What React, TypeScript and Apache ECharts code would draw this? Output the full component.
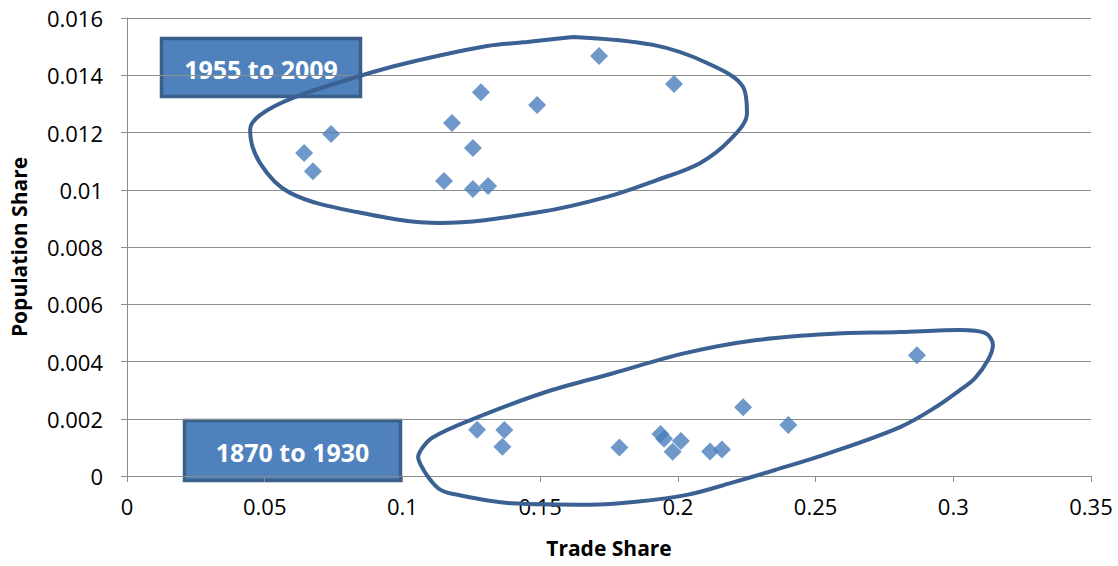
import React, { useEffect, useRef } from "react";
import * as echarts from "echarts";

// Trade share vs population share, two historical periods
const tradeShare1870 = [0.1271, 0.137, 0.1363, 0.1788, 0.1937, 0.195, 0.2011, 0.1981, 0.2117, 0.216, 0.2237, 0.2401, 0.2868];
const popShare1870 = [0.00162, 0.00161, 0.00102, 0.001, 0.00147, 0.0013, 0.00122, 0.00085, 0.00086, 0.00093, 0.0024, 0.00178, 0.00422];

const tradeShare1955 = [0.0643, 0.0675, 0.0741, 0.1151, 0.118, 0.1256, 0.1256, 0.1285, 0.1311, 0.1489, 0.1714, 0.1986];
const popShare1955 = [0.01128, 0.01065, 0.01195, 0.01031, 0.01233, 0.01146, 0.01003, 0.01341, 0.01013, 0.01296, 0.01467, 0.01369];

// Hand-drawn outlines around each period's cluster (data coordinates)
const outline1955X = [0.1619, 0.191, 0.2106, 0.2237, 0.2251, 0.2189, 0.208, 0.1924, 0.1743, 0.1499, 0.1136, 0.0835, 0.0592, 0.0483, 0.0447, 0.0483, 0.0603, 0.0857, 0.1017, 0.1307, 0.1452, 0.1619];
const outline1955Y = [0.01534, 0.01506, 0.01443, 0.01359, 0.01268, 0.01174, 0.01093, 0.01034, 0.00975, 0.00922, 0.00884, 0.00922, 0.00989, 0.01093, 0.01209, 0.01261, 0.01321, 0.01401, 0.01443, 0.01502, 0.01516, 0.01534];

const outline1870X = [0.1067, 0.1107, 0.1249, 0.151, 0.1768, 0.203, 0.2287, 0.2549, 0.2807, 0.3024, 0.3115, 0.3144, 0.3126, 0.3079, 0.3024, 0.2937, 0.2807, 0.2549, 0.2353, 0.2197, 0.2033, 0.1848, 0.1681, 0.1394, 0.118, 0.1133, 0.1096, 0.1067, 0.1057, 0.1067];
const outline1870Y = [0.00091, 0.00133, 0.00196, 0.0029, 0.0036, 0.0043, 0.00475, 0.00496, 0.00503, 0.0051, 0.005, 0.00458, 0.00405, 0.00342, 0.003, 0.00241, 0.00171, 0.0008, 0.00021, -0.00023, -0.00066, -0.0009, -0.001, -0.00095, -0.00062, -0.00045, -0.00007, 0.00038, 0.00066, 0.00091];

const periodLabels = ["1955 to 2009", "1870 to 1930"];

const zip = (xs: number[], ys: number[]) => xs.map((x, i) => [x, ys[i]]);

const FONT = '"Open Sans", "Liberation Sans", sans-serif';
const MARK = "#4A7EBB";
const OUTLINE = "#3B6092";
const GRID_GREY = "#8C8C8C";

export default function App() {
  const ref = useRef<HTMLDivElement>(null);

  useEffect(() => {
    if (!ref.current) return;
    const chart = echarts.init(ref.current, null, { renderer: "svg" });

    const outlineSeries = (xs: number[], ys: number[]) => ({
      type: "line",
      data: zip(xs, ys),
      smooth: 0.35,
      showSymbol: false,
      symbol: "none",
      clip: false,
      silent: true,
      lineStyle: { color: OUTLINE, width: 4 },
      z: 3,
    });

    const callout = (x: number, y: number, w: number, h: number, text: string) => ({
      type: "group",
      z: 100,
      children: [
        {
          type: "rect",
          shape: { x, y, width: w, height: h },
          style: { fill: "#4F81BD", stroke: "#3A5F8B", lineWidth: 3.5 },
        },
        {
          type: "text",
          x: x + w / 2,
          y: y + h / 2 + 1,
          style: {
            text,
            fill: "#FFFFFF",
            font: `bold 25px ${FONT}`,
            textAlign: "center",
            textVerticalAlign: "middle",
          },
        },
      ],
    });

    chart.setOption({
      animation: false,
      backgroundColor: "#FFFFFF",
      textStyle: { fontFamily: FONT },
      grid: { left: 127, right: 27, top: 18, bottom: 90, containLabel: false },
      xAxis: {
        type: "value",
        min: 0,
        max: 0.35,
        interval: 0.05,
        name: "Trade Share",
        nameLocation: "middle",
        nameGap: 61,
        nameTextStyle: { fontFamily: FONT, fontWeight: "bold", fontSize: 21, color: "#000" },
        axisLine: { show: true, onZero: false, lineStyle: { color: GRID_GREY, width: 1 } },
        axisTick: { show: true, length: 6, lineStyle: { color: GRID_GREY } },
        axisLabel: { fontFamily: FONT, fontSize: 22, color: "#000", margin: 19 },
        splitLine: { show: false },
      },
      yAxis: {
        type: "value",
        min: 0,
        max: 0.016,
        interval: 0.002,
        name: "Population Share",
        nameLocation: "middle",
        nameGap: 98,
        nameTextStyle: { fontFamily: FONT, fontWeight: "bold", fontSize: 21, color: "#000" },
        axisLine: { show: true, lineStyle: { color: GRID_GREY, width: 1 } },
        axisTick: { show: true, length: 6, lineStyle: { color: GRID_GREY } },
        axisLabel: { fontFamily: FONT, fontSize: 22, color: "#000", margin: 24 },
        splitLine: { show: true, lineStyle: { color: GRID_GREY, width: 1 } },
      },
      series: [
        {
          name: periodLabels[0],
          type: "scatter",
          symbol: "diamond",
          symbolSize: 18,
          itemStyle: { color: MARK },
          data: zip(tradeShare1955, popShare1955),
          z: 4,
        },
        {
          name: periodLabels[1],
          type: "scatter",
          symbol: "diamond",
          symbolSize: 18,
          itemStyle: { color: MARK },
          data: zip(tradeShare1870, popShare1870),
          z: 4,
        },
        outlineSeries(outline1955X, outline1955Y),
        outlineSeries(outline1870X, outline1870Y),
      ],
      graphic: [
        callout(161.5, 38.5, 199, 58, periodLabels[0]),
        callout(184.5, 420.5, 216, 60, periodLabels[1]),
      ],
    });

    return () => chart.dispose();
  }, []);

  return (
    <div
      ref={ref}
      style={{ position: "fixed", left: 0, top: 0, width: 1118, height: 566 }}
    />
  );
}
